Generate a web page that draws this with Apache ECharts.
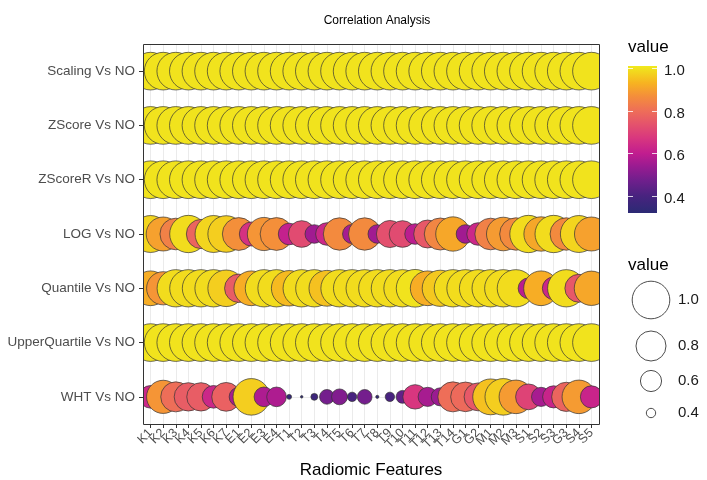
<!DOCTYPE html>
<html>
<head>
<meta charset="utf-8">
<script src="https://cdn.jsdelivr.net/npm/echarts@6/dist/echarts.min.js"></script>
<style>
  html, body { margin: 0; padding: 0; background: #ffffff; }
  #chart { width: 707px; height: 480px; }
</style>
</head>
<body>
<div id="chart"></div>
<script>
// Radiomic features along the x axis
const features = ['K1','K2','K3','K4','K5','K6','K7','E1','E2','E3','E4',
  'T1','T2','T3','T4','T5','T6','T7','T8','T9','T10','T11','T12','T13','T14',
  'G1','G2','M1','M2','M3','S1','S2','S3','G3','S4','S5'];

// Normalisation methods compared against no normalisation (top to bottom)
const comparisons = ['Scaling Vs NO','ZScore Vs NO','ZScoreR Vs NO','LOG Vs NO',
  'Quantile Vs NO','UpperQuartile Vs NO','WHT Vs NO'];

// Correlation values, one per feature
const scalingVals = [1.00,1.00,1.00,1.00,1.00,1.00,1.00,1.00,1.00,1.00,1.00,1.00,1.00,1.00,1.00,1.00,1.00,1.00,
  1.00,1.00,1.00,1.00,1.00,1.00,1.00,1.00,1.00,1.00,1.00,1.00,1.00,1.00,1.00,1.00,1.00,1.00];
const zscoreVals = [1.00,1.00,1.00,1.00,1.00,1.00,1.00,1.00,1.00,1.00,1.00,1.00,1.00,1.00,1.00,1.00,1.00,1.00,
  1.00,1.00,1.00,1.00,1.00,1.00,1.00,1.00,1.00,1.00,1.00,1.00,1.00,1.00,1.00,1.00,1.00,1.00];
const zscoreRVals = [1.00,1.00,1.00,1.00,1.00,1.00,1.00,1.00,1.00,1.00,1.00,1.00,1.00,1.00,1.00,1.00,1.00,1.00,
  1.00,1.00,1.00,1.00,1.00,1.00,1.00,1.00,1.00,1.00,1.00,1.00,1.00,1.00,1.00,1.00,1.00,1.00];
const logVals = [0.98,0.90,0.84,0.99,0.78,0.98,0.97,0.87,0.66,0.88,0.87,0.61,0.72,0.55,0.63,0.86,0.56,0.86,
  0.55,0.73,0.72,0.59,0.75,0.85,0.91,0.55,0.63,0.84,0.89,0.86,0.99,0.91,0.99,0.86,0.98,0.90];
const quantileVals = [0.92,0.88,0.99,0.99,0.99,0.99,0.97,0.76,0.92,0.99,0.99,0.94,0.99,0.99,0.95,0.99,0.99,0.99,
  0.99,0.99,0.99,1.00,0.92,0.96,0.99,0.99,0.99,0.99,0.99,0.99,0.59,0.92,0.63,0.99,0.75,0.91];
const upperQuartileVals = [1.00,1.00,1.00,1.00,1.00,1.00,1.00,1.00,1.00,1.00,1.00,1.00,1.00,1.00,1.00,1.00,1.00,1.00,
  1.00,1.00,1.00,1.00,1.00,1.00,1.00,1.00,1.00,1.00,1.00,1.00,1.00,1.00,1.00,1.00,1.00,1.00];
const whtVals = [0.63,0.88,0.80,0.76,0.76,0.63,0.77,0.56,0.97,0.57,0.57,0.35,0.33,0.37,0.48,0.50,0.40,0.48,
  0.335,0.40,0.45,0.67,0.56,0.54,0.80,0.79,0.75,0.95,0.97,0.89,0.70,0.56,0.62,0.78,0.89,0.62];

// Legend tick values
const colorTicks = [1.0, 0.8, 0.6, 0.4];
const sizeTicks = [1.0, 0.8, 0.6, 0.4];

const rows = [scalingVals, zscoreVals, zscoreRVals, logVals, quantileVals, upperQuartileVals, whtVals];

// Shared value scale for colour and size
const VMIN = 0.32, VMAX = 1.01;
const paletteStops = [
  [0.32, '#2B2A74'], [0.40, '#48237F'], [0.47, '#6E1F8C'], [0.54, '#9A1B91'],
  [0.60, '#C11D8F'], [0.67, '#D8367F'], [0.74, '#E5546B'], [0.80, '#EE6E58'],
  [0.87, '#F48F3A'], [0.93, '#F7B321'], [1.01, '#F0EA1C']
];
function hex2rgb(h) { return [1, 3, 5].map(i => parseInt(h.substr(i, 2), 16)); }
function colorAt(v) {
  if (v <= paletteStops[0][0]) return paletteStops[0][1];
  for (let i = 1; i < paletteStops.length; i++) {
    const [v1, c1] = paletteStops[i];
    const [v0, c0] = paletteStops[i - 1];
    if (v <= v1) {
      const f = (v - v0) / (v1 - v0);
      const a = hex2rgb(c0), b = hex2rgb(c1);
      return 'rgb(' + a.map((x, k) => Math.round(x + (b[k] - x) * f)).join(',') + ')';
    }
  }
  return paletteStops[paletteStops.length - 1][1];
}
const rampColors = [];
for (let i = 0; i <= 69; i++) rampColors.push(colorAt(VMIN + (VMAX - VMIN) * i / 69));

function sizeOf(v) {
  const t = Math.max(0, (v - VMIN) / (VMAX - VMIN));
  return Math.max(2.5, 38 * Math.pow(t, 0.65));
}

const points = [];
rows.forEach((vals, r) => vals.forEach((v, c) => points.push([c, r, v])));

const FONT = '"Liberation Sans", Arial, sans-serif';

// Panel geometry (x expanded by 0.6 of a category step on each side)
const P = { left: 143, top: 44, right: 599, bottom: 424 };
const XPAD = 0.6;
const step = (P.right - P.left) / (features.length - 1 + 2 * XPAD);
const xFirst = P.left + XPAD * step;
const xLast = xFirst + (features.length - 1) * step;
const rowStep = (P.bottom - P.top) / comparisons.length;

// Colour bar geometry
const CB = { x: 628, y: 66, w: 29, h: 147 };
function cbY(v) { return CB.y + (VMAX - v) / (VMAX - VMIN) * CB.h; }

const graphics = [];
// white strips that trim the points at the panel's left and right edges
graphics.push({ type: 'rect', z: 10, silent: true,
  shape: { x: P.left - 25, y: P.top, width: 25.5, height: P.bottom - P.top }, style: { fill: '#ffffff' } });
graphics.push({ type: 'rect', z: 10, silent: true,
  shape: { x: P.right + 0.5, y: P.top, width: 26, height: P.bottom - P.top }, style: { fill: '#ffffff' } });
// panel border
graphics.push({
  type: 'rect', z: 100, silent: true,
  shape: { x: P.left + 0.5, y: P.top + 0.5, width: P.right - P.left, height: P.bottom - P.top },
  style: { fill: null, stroke: '#333333', lineWidth: 1 }
});
// colour legend
graphics.push({
  type: 'text', style: { text: 'value', x: 628, y: 47, font: '17px ' + FONT, fill: '#000', verticalAlign: 'middle' }
});
graphics.push({
  type: 'rect', shape: { x: CB.x, y: CB.y, width: CB.w, height: CB.h },
  style: {
    fill: new echarts.graphic.LinearGradient(0, 0, 0, 1,
      paletteStops.map(([v, c]) => ({ offset: (VMAX - v) / (VMAX - VMIN), color: c })).reverse())
  }
});
colorTicks.forEach(v => {
  const y = Math.round(cbY(v)) + 0.5;
  graphics.push({ type: 'line', shape: { x1: CB.x, y1: y, x2: CB.x + 5, y2: y }, style: { stroke: 'rgba(255,255,255,0.8)', lineWidth: 1 } });
  graphics.push({ type: 'line', shape: { x1: CB.x + CB.w - 5, y1: y, x2: CB.x + CB.w, y2: y }, style: { stroke: 'rgba(255,255,255,0.8)', lineWidth: 1 } });
  graphics.push({ type: 'text', style: { text: v.toFixed(1), x: 664, y: cbY(v) + 3, font: '15px ' + FONT, fill: '#1A1A1A', verticalAlign: 'middle' } });
});
// size legend
graphics.push({
  type: 'text', style: { text: 'value', x: 628, y: 265, font: '17px ' + FONT, fill: '#000', verticalAlign: 'middle' }
});
const sizeKeyY = [300, 346, 381, 413];
sizeTicks.forEach((v, i) => {
  graphics.push({ type: 'circle', shape: { cx: 651, cy: sizeKeyY[i], r: sizeOf(v) / 2 },
    style: { fill: '#ffffff', stroke: '#4D4D4D', lineWidth: 1 } });
  graphics.push({ type: 'text', style: { text: v.toFixed(1), x: 678, y: sizeKeyY[i], font: '15px ' + FONT, fill: '#1A1A1A', verticalAlign: 'middle' } });
});

const rowGrid = { left: P.left, right: 707 - P.right, top: P.top + rowStep / 2, bottom: 480 - P.bottom + rowStep / 2,
  containLabel: false, outerBoundsMode: 'none' };

const chart = echarts.init(document.getElementById('chart'), null, { renderer: 'canvas' });
chart.setOption({
  animation: false,
  backgroundColor: '#ffffff',
  textStyle: { fontFamily: FONT },
  title: {
    text: 'Correlation Analysis', left: 372, top: 10, textAlign: 'center',
    textStyle: { fontSize: 12, fontWeight: 'normal', color: '#000', fontFamily: FONT }
  },
  grid: [
    // 0: the panel itself, holds the points
    { left: P.left, right: 707 - P.right, top: P.top, bottom: 480 - P.bottom, containLabel: false, outerBoundsMode: 'none' },
    // 1: category centres in x, for ticks, labels and vertical grid lines
    { left: xFirst, right: 707 - xLast, top: P.top, bottom: 480 - P.bottom, containLabel: false, outerBoundsMode: 'none' },
    // 2: row centres in y, for the horizontal grid lines
    rowGrid,
    // 3: row centres in y, for ticks and labels drawn above the edge strips
    Object.assign({}, rowGrid)
  ],
  xAxis: [
    { gridIndex: 0, type: 'value', min: -XPAD, max: features.length - 1 + XPAD, show: false },
    {
      gridIndex: 1, type: 'category', data: features, boundaryGap: false,
      axisLine: { show: false },
      axisTick: { show: true, length: 4, interval: 0, lineStyle: { color: '#333333' } },
      axisLabel: { interval: 0, rotate: 45, fontSize: 12.5, color: '#4D4D4D', margin: 7, fontFamily: FONT },
      splitLine: { show: true, interval: 0, lineStyle: { color: '#EBEBEB', width: 1 } },
      name: 'Radiomic Features', nameLocation: 'middle', nameGap: 38,
      nameTextStyle: { fontSize: 17, color: '#000', fontFamily: FONT }
    },
    { gridIndex: 2, type: 'category', data: features, show: false },
    { gridIndex: 3, type: 'category', data: features, show: false }
  ],
  yAxis: [
    { gridIndex: 0, type: 'category', data: comparisons, inverse: true, boundaryGap: true, show: false },
    { gridIndex: 1, type: 'category', data: comparisons, inverse: true, show: false },
    {
      gridIndex: 2, type: 'category', data: comparisons, inverse: true, boundaryGap: false,
      axisLine: { show: false }, axisTick: { show: false }, axisLabel: { show: false },
      splitLine: { show: true, lineStyle: { color: '#EBEBEB', width: 1 } }
    },
    {
      gridIndex: 3, type: 'category', data: comparisons, inverse: true, boundaryGap: false, z: 50,
      axisLine: { show: false },
      axisTick: { show: true, length: 4, lineStyle: { color: '#333333' } },
      axisLabel: { fontSize: 13.5, color: '#4D4D4D', margin: 8, fontFamily: FONT },
      splitLine: { show: false }
    }
  ],
  visualMap: {
    show: false, type: 'continuous', dimension: 2, seriesIndex: 0,
    min: VMIN, max: VMAX, inRange: { color: rampColors }
  },
  series: [{
    type: 'scatter', xAxisIndex: 0, yAxisIndex: 0, z: 2,
    data: points,
    symbol: 'circle',
    symbolSize: val => sizeOf(val[2]),
    itemStyle: { borderColor: '#333333', borderWidth: 0.7, opacity: 1 },
    emphasis: { disabled: true }
  }],
  graphic: graphics
});
</script>
</body>
</html>
